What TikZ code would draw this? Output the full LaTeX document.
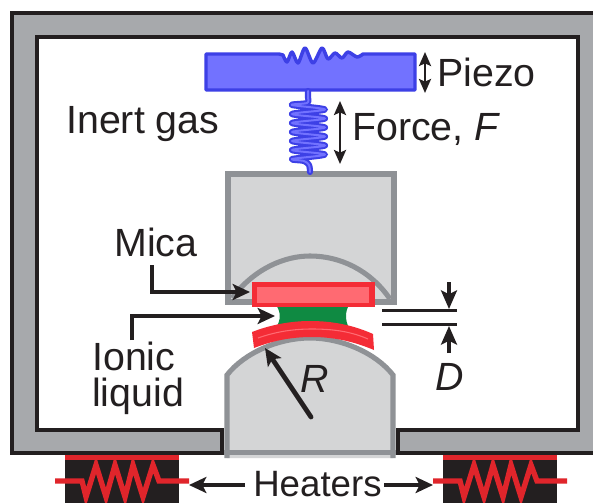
\documentclass[tikz,border=0pt]{standalone}
\usepackage{fontspec}
\setmainfont{Liberation Sans}
\usetikzlibrary{arrows.meta}
\definecolor{framegray}{HTML}{A7A9AC}
\definecolor{edgegray}{HTML}{8F9296}
\definecolor{blockgray}{HTML}{D4D5D6}
\definecolor{ink}{HTML}{231F20}
\definecolor{micared}{HTML}{F42C36}
\definecolor{heatred}{HTML}{E0252B}
\definecolor{micapink}{HTML}{FF6A72}
\definecolor{gel}{HTML}{0F8A42}
\definecolor{piezoblue}{HTML}{7272FF}
\definecolor{piezoedge}{HTML}{3D40E6}
\tikzset{
 lbl/.style={font=\fontsize{29.5}{29.5}\selectfont, text=ink, inner sep=0pt, anchor=base west},
 darrow/.style={draw=ink, line width=1.9pt, {Stealth[length=10.5pt,width=9pt,inset=2pt]}-{Stealth[length=10.5pt,width=9pt,inset=2pt]}},
 arrow/.style={draw=ink, line width=2.5pt, line join=miter, -{Stealth[length=13pt,width=12pt,inset=3pt]}},
 dimarrow/.style={draw=ink, line width=2.5pt, -{Stealth[length=14pt,width=12pt,inset=3pt]}},
 block/.style={fill=blockgray, draw=edgegray, line width=3.8pt},
 wire/.style={draw=heatred, line width=4pt, line join=miter},
}
\begin{document}
\begin{tikzpicture}[x=0.75pt,y=-0.75pt]
\useasboundingbox (0,0) rectangle (593,503);
\clip (0,0) rectangle (593,503);
\fill[white] (0,0) rectangle (593,503);
% chamber frame
\fill[framegray, even odd rule] (12,13) -- (600,13) -- (600,453) -- (398,453) -- (398,430) -- (578,430) -- (578,37) -- (37,37) -- (37,430) -- (222,430) -- (222,453) -- (12,453) -- cycle;
\draw[ink, line width=2.6pt] (600,13) -- (12,13) -- (12,453) -- (222,453) -- (222,430) -- (37,430) -- (37,37) -- (578,37) -- (578,430) -- (398,430) -- (398,453) -- (600,453);
% upper block
\draw[block] (228,174) -- (394,174) -- (394,302) -- (228,302) -- cycle;
\draw[edgegray, line width=3.8pt] (232,298) .. controls (255,268) and (285,256) .. (310,256) .. controls (340,256) and (370,270) .. (390,299);
% lower block
\draw[block] (227,458) -- (227,375) .. controls (245,352) and (280,338) .. (310,338) .. controls (340,338) and (375,352) .. (393,375) -- (393,458);
\fill[edgegray] (224,450) rectangle (396,455);
% liquid
\fill[gel] (276,305) .. controls (281,312) and (281,320) .. (276,328) -- (349,328) .. controls (345,320) and (345,312) .. (349,305) -- cycle;
% upper mica
\fill[micared] (252,282) rectangle (375,307);
\fill[micapink] (257,287) rectangle (369,303);
% lower mica
\fill[micared] (252,332) .. controls (270,325) and (290,321) .. (310,321) .. controls (335,321) and (355,326) .. (373,334) -- (374,350) .. controls (355,342) and (335,337) .. (312,337) .. controls (290,337) and (272,341) .. (254,348) -- cycle;
\draw[micapink, line width=0.8pt] (258,338) .. controls (275,332) and (292,329) .. (312,329) .. controls (335,329) and (352,332) .. (368,339);
% piezo
\draw[fill=piezoblue, draw=piezoedge, line width=2.6pt, line join=round]
 (206,54) -- (279,54) -- plot[smooth] coordinates {(283,55) (287,62) (292,52) (298,63) (305,48) (313,63) (322,48) (328,59) (335,53) (342,58) (348,52) (357,57) (363,54)} -- (415,54) -- (415,90) -- (206,90) -- cycle;
% spring
\foreach \c/\w in {piezoedge/4.6pt, piezoblue/1.5pt}{
 \draw[\c, line width=\w, line cap=round, line join=round] (308,91) -- (308,98)
  plot[smooth, tension=0.55] coordinates {(308,98) (307,103) (292,105) (325,109.5) (292,114) (325,118.5) (292,123) (325,127.5) (292,132) (325,136.5) (292,141) (325,145.5) (292,150) (325,154.5) (292,159) (304,161) (309,165) (310,172)};
}
% arrows and lines
\coordinate (pa) at (425,52); \coordinate (pb) at (425,93);
\coordinate (fa) at (340,101); \coordinate (fb) at (340,164);
\draw[darrow] (pa) -- (pb);
\draw[darrow] (fa) -- (fb);
\coordinate (micastart) at (152,265); \coordinate (micatip) at (250,292);
\draw[arrow] (micastart) |- (micatip);
\coordinate (ionstart) at (132,340); \coordinate (iontip) at (275,316);
\draw[arrow] (ionstart) |- (iontip);
\coordinate (rstart) at (311,417); \coordinate (rtip) at (265,348);
\draw[arrow, line cap=round, line width=3.6pt] (rstart) -- (rtip);
\coordinate (d1a) at (382,310.5); \coordinate (d1b) at (457,310.5);
\coordinate (d2a) at (382,324.5); \coordinate (d2b) at (457,324.5);
\draw[ink, line width=2.6pt] (d1a) -- (d1b);
\draw[ink, line width=2.6pt] (d2a) -- (d2b);
\coordinate (dt) at (449,282); \coordinate (dtt) at (449,309);
\coordinate (db) at (449,353); \coordinate (dbt) at (449,326);
\draw[dimarrow] (dt) -- (dtt);
\draw[dimarrow] (db) -- (dbt);
% heaters
\foreach \dx in {0,378}{
 \begin{scope}[xshift=\dx*0.75pt]
 \fill[ink] (65,455) rectangle (179,503);
 \fill[heatred] (65,455) rectangle (179,460);
 \draw[wire] (55,481) -- (82,481) -- (86,497) -- (96,465) -- (106,497) -- (115,465) -- (125,497) -- (133,465) -- (143,497) -- (153,465) -- (159,481) -- (189,481);
 \end{scope}
}
\coordinate (hl) at (189,485); \coordinate (hls) at (245,485);
\coordinate (hr) at (433,485); \coordinate (hrs) at (384,485);
\draw[arrow] (hls) -- (hl);
\draw[arrow] (hrs) -- (hr);
% labels
\node[lbl] (inert) at (66,133) {Inert gas};
\node[lbl] (piezo) at (437,87) {Piezo};
\node[lbl] (force) at (352,141) {Force, \textit{F}};
\node[lbl] (mica) at (114,256) {Mica};
\node[lbl] (ionic) at (92,370) {Ionic};
\node[lbl] (liquid) at (92,406) {liquid};
\node[lbl] (rl) at (300,392) {\textit{R}};
\node[lbl] (dl) at (435,390) {\textit{D}};
\node[lbl, font=\fontsize{27.5}{27.5}\selectfont] (heat) at (253,496) {Heaters};
\end{tikzpicture}
\end{document}
